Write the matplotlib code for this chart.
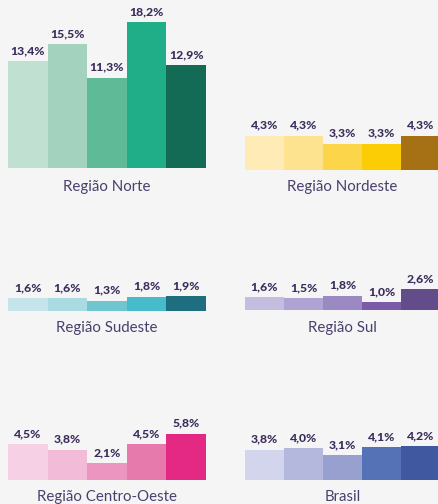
import matplotlib
matplotlib.use("Agg")
import matplotlib.pyplot as plt

# Share values per region (percent)
regions = ["Região Norte", "Região Nordeste", "Região Sudeste",
           "Região Sul", "Região Centro-Oeste", "Brasil"]
norte = [13.4, 15.5, 11.3, 18.2, 12.9]
nordeste = [4.3, 4.3, 3.3, 3.3, 4.3]
sudeste = [1.6, 1.6, 1.3, 1.8, 1.9]
sul = [1.6, 1.5, 1.8, 1.0, 2.6]
centro_oeste = [4.5, 3.8, 2.1, 4.5, 5.8]
brasil = [3.8, 4.0, 3.1, 4.1, 4.2]

series = [norte, nordeste, sudeste, sul, centro_oeste, brasil]

palettes = [
    ["#c0e0d2", "#a3d2be", "#5fba98", "#1fae87", "#136a55"],
    ["#feebb5", "#fde28f", "#fdd54a", "#fccc05", "#a57114"],
    ["#c6e5ea", "#a9dbe0", "#6fc6cf", "#46bccb", "#1e6e80"],
    ["#c5bde0", "#aea3d2", "#9b89c4", "#7b5aa8", "#634c8a"],
    ["#f6d0e4", "#f2bcd8", "#ec95c0", "#e67aad", "#e42985"],
    ["#d3d5ed", "#b5b8dd", "#97a0cf", "#5472b5", "#3f589f"],
]

W, H = 439, 504
BG = "#f5f5f5"
LABEL_C = "#3b2d5c"
TITLE_C = "#4b3f6e"
PX_PER_UNIT = 8.0

fig = plt.figure(figsize=(W / 100, H / 100), dpi=100, facecolor=BG)

# panel placement in pixels: (left, right, baseline from top, title y from top)
panels = [
    (8, 206, 168, 187),
    (245, 440, 170, 187),
    (8, 206, 311, 328),
    (245, 440, 310, 328),
    (8, 206, 480, 497),
    (245, 440, 480, 497),
]

for (x0, x1, base, ty), vals, cols, name in zip(panels, series, palettes, regions):
    ymax = 20.0
    hpx = ymax * PX_PER_UNIT
    ax = fig.add_axes([x0 / W, (H - base) / H, (x1 - x0) / W, hpx / H])
    ax.set_facecolor("none")
    xs = range(len(vals))
    ax.bar(xs, vals, width=1.0, color=cols, edgecolor="none")
    ax.set_xlim(-0.5, len(vals) - 0.5)
    ax.set_ylim(0, ymax)
    ax.axis("off")
    for x, v in zip(xs, vals):
        ax.annotate(f"{v:.1f}%".replace(".", ","), (x, v), xytext=(0, 3.5),
                    textcoords="offset points", ha="center", va="bottom",
                    fontsize=8.8, fontweight="black", color=LABEL_C,
                    family="Lato", annotation_clip=False)
    fig.text(((x0 + x1) / 2) / W, (H - ty) / H, name, ha="center",
             va="center", fontsize=10.8, color=TITLE_C, family="Lato")

fig.savefig("out.png", dpi=100, facecolor=BG)
